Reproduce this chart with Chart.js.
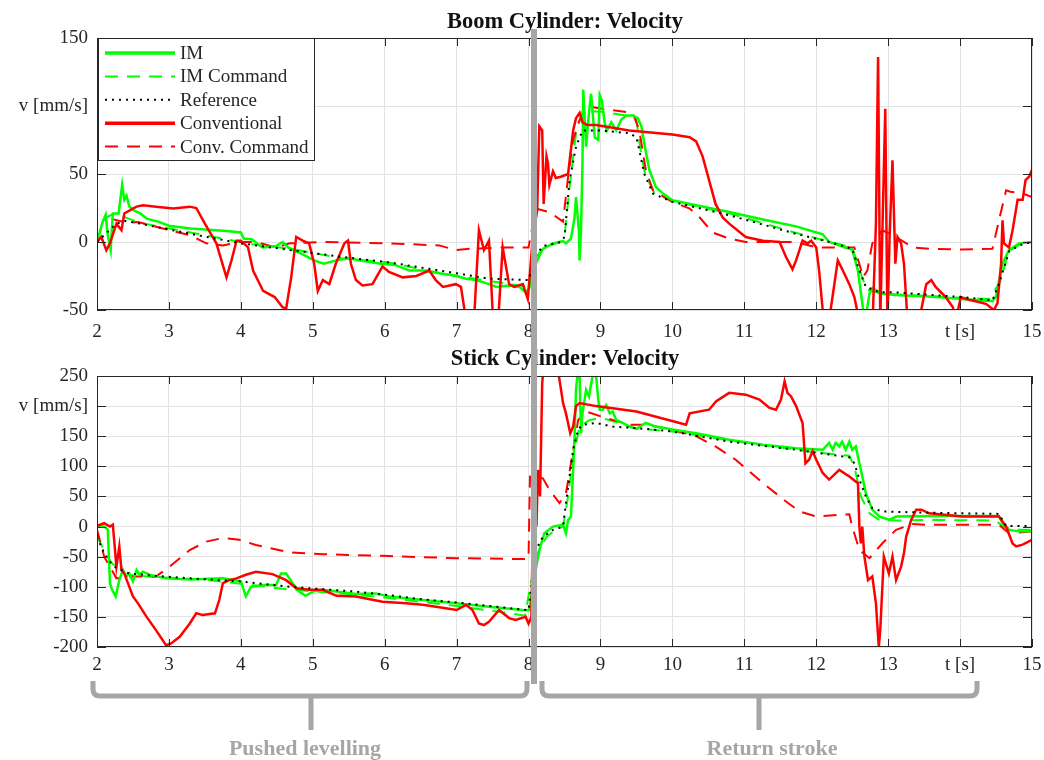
<!DOCTYPE html>
<html>
<head>
<meta charset="utf-8">
<script src="https://cdn.jsdelivr.net/npm/chart.js@4.4.0/dist/chart.umd.min.js"></script>
<style>
  body { margin: 0; background: #fff; width: 1044px; height: 760px; position: relative; overflow: hidden; }
  canvas { position: absolute; left: 0; }
  #boomChart { top: 0; }
  #stickChart { top: 340px; }
  svg { position: absolute; left: 0; top: 0; font-family: 'Liberation Serif', serif; }
</style>
</head>
<body>
<canvas id="boomChart" width="1044" height="345"></canvas>
<canvas id="stickChart" width="1044" height="345"></canvas>
<svg width="1044" height="760">
  <text x="565" y="28" font-size="22.5" font-weight="bold" text-anchor="middle" fill="#111">Boom Cylinder: Velocity</text>
  <text x="565" y="365" font-size="22.5" font-weight="bold" text-anchor="middle" fill="#111">Stick Cylinder: Velocity</text>
  <rect x="531" y="29" width="6" height="655" fill="#a6a6a6"/>
  <path d="M93 681 V689 Q93 696 100 696 H520 Q527 696 527 689 V681 M311 696 V730" stroke="#a6a6a6" stroke-width="5" fill="none"/>
  <path d="M542 681 V689 Q542 696 549 696 H970 Q977 696 977 689 V681 M759 696 V730" stroke="#a6a6a6" stroke-width="5" fill="none"/>
  <text x="305" y="755" font-size="22" font-weight="bold" text-anchor="middle" fill="#a6a6a6">Pushed levelling</text>
  <text x="772" y="755" font-size="22" font-weight="bold" text-anchor="middle" fill="#a6a6a6">Return stroke</text>
</svg>
<script>
// --- Data: [t (s), v (mm/s)] ---
const seriesNames = ['IM', 'IM Command', 'Reference', 'Conventional', 'Conv. Command'];

// Boom cylinder
const boomIm = [[2,0],[2.08,15],[2.12,20],[2.15,5],[2.19,-6],[2.22,21],[2.3,21],[2.35,42],[2.38,31],[2.41,34],[2.45,26],[2.52,23],[2.6,21],[2.7,17],[2.85,15],[3,12],[3.3,10],[3.8,8],[4,7],[4.04,2.5],[4.15,2],[4.3,-4],[4.49,-3],[4.58,0],[4.66,-4],[4.84,-8.6],[5.02,-13.5],[5.15,-16],[5.33,-13.5],[5.5,-12],[5.7,-14],[5.95,-16],[6.15,-17],[6.34,-21],[6.53,-21],[6.76,-23],[7,-25],[7.13,-27],[7.27,-28],[7.45,-31],[7.55,-33],[7.73,-32],[7.87,-33],[7.96,-37],[8.01,-34],
  [8.1,-16],[8.2,-5],[8.34,-1],[8.48,0.7],[8.52,-1],[8.59,2.5],[8.64,18],[8.66,33],[8.7,8.6],[8.71,-13.5],[8.73,9],[8.75,58],[8.76,112],[8.8,70],[8.84,95],[8.87,109],[8.92,77],[8.97,75],[8.99,108],[9.02,104],[9.06,87],[9.09,82],[9.15,88],[9.22,82],[9.29,90],[9.36,93],[9.45,93],[9.52,91],[9.57,85],[9.61,72],[9.68,53],[9.77,40.5],[9.87,35.6],[10,30.7],[10.33,27],[10.79,22],[11.26,16.5],[11.72,11.5],[12.09,5.7],[12.18,0],[12.5,-5.7],[12.58,-21],[12.65,-49],[12.69,-55],[12.74,-38],[12.78,-34],[12.92,-38],[13.1,-39],[13.57,-40],[14.03,-42],[14.45,-43.5],[14.5,-40],[14.59,-16],[14.68,-6],[14.82,-1],[15,0]];
const boomImCmd = [[2,0],[2.1,17],[2.2,20],[2.3,20],[2.6,14],[3.3,7],[4,0],[4.2,-2],[4.7,-5],[5.4,-12],[6.06,-15],[6.5,-20],[7,-25],[7.5,-29],[8,-33],[8.1,-12],[8.2,-4],[8.45,0],[8.5,4],[8.57,40],[8.66,80],[8.75,96],[9,96],[9.36,93],[9.5,90],[9.55,70],[9.62,50],[9.75,36],[10,30],[10.8,21],[11.7,7],[12.2,0],[12.5,-4],[12.6,-20],[12.7,-35],[12.9,-38],[14.4,-42],[14.55,-30],[14.68,-7],[14.85,-1],[15,0]];
const boomRef = [[2,0],[2.1,5],[2.27,13.5],[2.4,15.5],[2.6,13.5],[3.3,6],[4,-1],[4.7,-6],[5.41,-11],[6.06,-15],[7,-23],[7.45,-27],[8,-28],[8.1,-10],[8.2,-3],[8.45,0],[8.5,3.7],[8.52,15],[8.57,45],[8.66,70],[8.75,82],[9,82],[9.4,80],[9.5,77],[9.54,67.5],[9.61,50],[9.73,35.6],[10,29.5],[10.79,19.7],[11.72,6],[12.18,0],[12.5,-5],[12.6,-21],[12.69,-33],[12.88,-37],[13.1,-37],[14.03,-40.5],[14.45,-43],[14.54,-31],[14.68,-7],[14.82,-2.5],[15,0]];
const boomConv = [[2,0],[2.06,3.7],[2.13,-6],[2.18,-1],[2.27,13.5],[2.34,8.6],[2.38,21],[2.45,23],[2.55,26],[2.64,27],[2.82,26],[3.06,24.6],[3.29,26],[3.38,25],[3.5,13.5],[3.66,-1],[3.73,-13.5],[3.8,-26],[3.87,-13.5],[3.94,1],[4,1],[4.1,-4],[4.17,-21],[4.31,-36],[4.47,-40.5],[4.58,-48],[4.63,-49],[4.7,-26],[4.77,3.7],[4.86,1],[4.95,-1],[5.02,-16],[5.07,-36],[5.14,-28],[5.23,-31],[5.32,-16],[5.44,-1],[5.49,1],[5.53,-16],[5.6,-28],[5.69,-32],[5.83,-31],[5.97,-18],[6.06,-22],[6.25,-26],[6.44,-25],[6.62,-21],[6.71,-28],[6.81,-33],[6.99,-31],[7.06,-33],[7.11,-50],[7.18,-65],[7.25,-50],[7.31,8.6],[7.38,-6],[7.45,1],[7.5,-50],[7.57,-65],[7.64,-4],[7.73,-31],[7.8,-33],[7.92,-31],[7.99,-42],
  [8.06,3.7],[8.12,23],[8.15,85],[8.19,82],[8.21,28],[8.25,63],[8.27,58],[8.29,42],[8.34,52],[8.38,47],[8.45,48],[8.55,50],[8.62,82],[8.66,91],[8.71,95],[8.75,88],[8.82,86],[8.94,86],[9.4,82],[10,79],[10.24,77],[10.33,74],[10.42,63],[10.51,45.5],[10.6,28],[10.7,18],[10.79,13.5],[11.02,3.7],[11.26,1],[11.49,0],[11.58,-11],[11.67,-20],[11.72,-13.5],[11.81,1],[11.88,-1],[11.93,1],[12,-4],[12.04,-21],[12.09,-50],[12.16,-75],[12.2,-50],[12.3,-13.5],[12.37,-21],[12.46,-31],[12.53,-40.5],[12.6,-58],[12.69,-75],[12.78,-65],[12.83,13.5],[12.86,136],[12.89,-58],[12.92,8.6],[12.96,98],[12.99,-60],[13.02,3.7],[13.06,60],[13.1,-16],[13.13,3.7],[13.18,-1],[13.22,-16],[13.26,-50],[13.34,-75],[13.46,-50],[13.53,-31],[13.6,-28],[13.66,-33],[13.8,-40.5],[13.9,-48],[13.94,-58],[14.01,-40.5],[14.08,-42],[14.17,-43],[14.36,-45.5],[14.47,-50],[14.52,-45],[14.57,-16],[14.59,16],[14.61,-1],[14.68,-4],[14.73,8.6],[14.8,31],[14.87,31],[14.91,45.5],[14.96,48],[15,53]];
const boomConvCmd = [[2.2,17],[2.43,14],[2.57,14.7],[3.01,8.6],[3.29,5],[3.52,-1],[3.75,-2.5],[3.98,0],[4.21,0],[4.49,-4],[4.68,-1],[5.14,0],[6.06,-1],[6.76,-2.5],[6.99,-6],[7.18,-5],[7.64,-4],[8,-4],[8.1,24.6],[8.29,22],[8.48,15],[8.55,48],[8.62,75],[8.71,90],[8.85,99.5],[9.03,98],[9.45,95],[9.54,82],[9.63,53],[9.73,38],[10,29.5],[10.24,24.6],[10.38,18],[10.56,7],[10.79,2.5],[11.02,0],[11.72,0],[12,-4],[12.53,-4],[12.6,-16],[12.65,-26],[12.71,-21],[12.78,-1],[12.92,8.6],[13.1,4],[13.34,-4],[13.57,-5],[14.03,-5.6],[14.45,-5],[14.55,18],[14.64,38],[14.7,37],[14.87,35.6],[15,33]];

// Stick cylinder
const stickIm = [[2,0],[2.1,0],[2.15,-5],[2.18,-94],[2.21,-105],[2.26,-116],[2.31,-89],[2.36,-72],[2.41,-83],[2.45,-78],[2.5,-91],[2.55,-72],[2.59,-80],[2.64,-75],[2.73,-80],[2.96,-86],[3.29,-88],[3.75,-86],[4,-91],[4.07,-116],[4.14,-100],[4.31,-97],[4.49,-97],[4.56,-78],[4.63,-78],[4.72,-94],[4.81,-108],[4.9,-115],[5,-108],[5.14,-105],[5.6,-112],[5.88,-111],[6.06,-116],[6.53,-122],[7,-127.5],[7.45,-133],[7.92,-138.6],[8.01,-139],
  [8.1,-72],[8.15,-39],[8.22,-11],[8.34,0],[8.48,3],[8.52,-11],[8.55,11],[8.59,16.6],[8.62,94],[8.64,150],[8.66,227],[8.69,265],[8.71,250],[8.73,155],[8.75,188],[8.8,227],[8.84,216],[8.89,250],[8.94,250],[8.97,210],[8.99,194],[9.03,194],[9.08,202],[9.13,188],[9.17,191],[9.22,177],[9.31,172],[9.4,166],[9.5,162],[9.63,172],[9.77,166],[10,161],[10.33,155],[10.79,144],[11.26,136],[11.72,130],[12.09,127.5],[12.18,139],[12.23,127.5],[12.27,139],[12.32,133],[12.36,141],[12.41,127.5],[12.46,141],[12.5,127.5],[12.55,133],[12.6,105],[12.65,78],[12.69,55],[12.78,28],[12.88,16.6],[13.02,11],[13.11,16.6],[13.57,17.7],[14.03,17.7],[14.54,17.7],[14.59,5.5],[14.68,-5.5],[14.82,-8],[15,-8]];
const stickImCmd = [[2,-15],[2.1,-40],[2.2,-60],[2.4,-80],[2.7,-83],[3.5,-88],[4,-95],[4.7,-105],[5.5,-112],[6,-118],[6.5,-125],[7,-132],[7.5,-140],[7.95,-148],[8.1,-50],[8.25,-17],[8.38,-5],[8.48,0],[8.55,50],[8.62,116],[8.71,166],[8.85,177],[9.03,180],[9.5,163],[10,158],[10.79,143],[11.99,123],[12.46,117.5],[12.53,100],[12.62,50],[12.74,22],[12.88,11],[13.11,10],[13.57,11],[14.5,10],[14.59,0],[14.78,-5.5],[15,-5.5]];
const stickRef = [[2,-17],[2.08,-39],[2.15,-55],[2.27,-69],[2.45,-78],[2.82,-82],[3.29,-86],[3.98,-91],[4.68,-100],[5.14,-104],[5.6,-108],[6.06,-114],[6.53,-121],[7,-126],[7.45,-132],[8,-139],[8.1,-39],[8.2,-17],[8.34,-5.5],[8.48,0],[8.52,39],[8.57,83],[8.62,127.5],[8.69,161],[8.75,169],[8.94,172],[9.17,166],[9.5,163.5],[10,158],[10.79,141],[11.72,127.5],[12.46,115],[12.53,105],[12.6,78],[12.69,50],[12.78,30.5],[12.92,25],[13.57,23],[14.54,21],[14.64,1],[15,1]];
const stickConv = [[2,1],[2.1,5.5],[2.18,0],[2.22,3],[2.27,-66.5],[2.31,-33],[2.34,-72],[2.38,-78],[2.43,-94],[2.5,-116],[2.57,-127.5],[2.69,-150],[2.82,-172],[2.96,-197],[3.03,-194],[3.15,-183],[3.29,-161],[3.38,-144],[3.47,-147],[3.64,-144],[3.7,-122],[3.75,-94],[3.84,-89],[3.94,-86],[4.07,-80],[4.21,-75],[4.44,-79],[4.63,-89],[4.77,-102.5],[4.95,-105],[5.14,-105],[5.33,-115],[5.6,-116],[5.97,-125],[6.3,-127.5],[6.53,-130],[6.76,-134],[7,-138.6],[7.13,-130],[7.22,-138.6],[7.31,-161],[7.38,-163.5],[7.45,-158],[7.59,-138.6],[7.73,-152],[7.82,-155],[7.96,-150],[8,-161],
  [8.04,-150],[8.06,0],[8.08,94],[8.11,0],[8.13,94],[8.16,50],[8.19,238],[8.22,280],[8.38,280],[8.43,244],[8.48,205],[8.52,188],[8.58,155],[8.62,166],[8.66,200],[8.71,205],[8.94,200],[9.5,191],[10.19,169],[10.24,188],[10.51,194],[10.61,208],[10.79,222],[11.02,219],[11.21,211],[11.35,197],[11.44,194],[11.51,211],[11.56,241],[11.6,222],[11.65,216],[11.72,200],[11.81,172],[11.85,105],[11.9,111],[11.95,125],[12,111],[12.09,89],[12.18,78],[12.32,94],[12.46,83],[12.58,72],[12.6,0],[12.62,-28],[12.64,0],[12.67,-50],[12.72,-89],[12.78,-83],[12.83,-127.5],[12.87,-200],[12.89,-172],[12.94,-50],[13.01,-78],[13.06,-50],[13.11,-89],[13.18,-66.5],[13.22,-44],[13.25,-17],[13.32,11],[13.39,28],[13.46,28],[13.57,22],[14.03,16.6],[14.54,16.6],[14.64,0],[14.73,-28],[14.78,-33],[14.87,-30],[15,-22]];
const stickConvCmd = [[2,-5],[2.1,-50],[2.27,-86],[2.5,-83],[2.82,-83],[3.01,-66.5],[3.29,-39],[3.52,-25],[3.75,-19],[3.98,-22],[4.21,-30.5],[4.68,-43],[5.14,-46],[6.06,-49],[7,-52.6],[8,-54],[8.02,83],[8.2,80],[8.29,61],[8.43,39],[8.52,55],[8.59,105],[8.69,177],[8.8,191],[9.08,180],[9.4,169],[9.63,169],[10,161],[10.33,150],[10.6,133],[10.88,111],[11.26,72],[11.58,41.6],[11.77,25],[12,16.6],[12.46,20.5],[12.5,0],[12.6,-39],[12.74,-52.6],[12.92,-27.7],[13.11,-5.5],[13.34,4.4],[13.57,2.8],[14.54,2.8],[14.68,-11],[15,-8.3]];

// Axes
const tRange = [2, 15];
const boomRange = [-50, 150];
const stickRange = [-200, 250];
const xLabelSwap = { 14: 't [s]' };
const boomYLabelSwap = { 100: 'v [mm/s]' };
const stickYLabelSwap = { 200: 'v [mm/s]' };

// --- Styling ---
Chart.defaults.font.family = "'Liberation Serif', serif";
Chart.defaults.font.size = 19;
Chart.defaults.color = '#262626';

const GREEN = '#00ff00', RED = '#ff0000';
const styles = [
  { color: GREEN, width: 2.5, dash: [], order: 2 },
  { color: GREEN, width: 2, dash: [13, 9], order: 4 },
  { color: '#000', width: 2, dash: [2, 5], order: 0 },
  { color: RED, width: 2.5, dash: [], order: 1 },
  { color: RED, width: 2, dash: [13, 9], order: 3 }
];

function toPoints(pairs) { return pairs.map(p => ({ x: p[0], y: p[1] })); }

function makeDatasets(list) {
  return list.map((pairs, i) => ({
    label: seriesNames[i],
    data: toPoints(pairs),
    borderColor: styles[i].color,
    borderWidth: styles[i].width,
    borderDash: styles[i].dash,
    order: styles[i].order,
    pointRadius: 0,
    tension: 0,
    fill: false
  }));
}

// box, inward tick marks and (optionally) the legend
const boxPlugin = {
  id: 'matlabBox',
  afterDraw(chart, args, opts) {
    const { ctx, chartArea: a, scales } = chart;
    ctx.save();
    ctx.strokeStyle = '#262626';
    ctx.lineWidth = 1;
    ctx.setLineDash([]);
    ctx.strokeRect(a.left + 0.5, a.top + 0.5, a.right - a.left - 1, a.bottom - a.top - 1);
    ctx.beginPath();
    scales.x.ticks.forEach(t => {
      const px = Math.round(scales.x.getPixelForValue(t.value)) + 0.5;
      ctx.moveTo(px, a.top); ctx.lineTo(px, a.top + 8);
      ctx.moveTo(px, a.bottom); ctx.lineTo(px, a.bottom - 8);
    });
    scales.y.ticks.forEach(t => {
      const py = Math.round(scales.y.getPixelForValue(t.value)) + 0.5;
      ctx.moveTo(a.left, py); ctx.lineTo(a.left + 9, py);
      ctx.moveTo(a.right, py); ctx.lineTo(a.right - 9, py);
    });
    ctx.stroke();

    if (opts.legend) {
      const x0 = a.left + 1, y0 = a.top, w = 216, h = 122;
      ctx.fillStyle = '#fff';
      ctx.fillRect(x0, y0, w, h);
      ctx.strokeRect(x0 + 0.5, y0 + 0.5, w, h);
      ctx.font = "19px 'Liberation Serif', serif";
      ctx.textBaseline = 'middle';
      chart.data.datasets.forEach((ds, i) => {
        const y = y0 + 15 + i * 23.4;
        ctx.beginPath();
        ctx.strokeStyle = ds.borderColor;
        ctx.lineWidth = i === 0 || i === 3 ? 3.5 : ds.borderWidth;
        ctx.setLineDash(ds.borderDash);
        ctx.moveTo(x0 + 7, y); ctx.lineTo(x0 + 77, y);
        ctx.stroke();
        ctx.setLineDash([]);
        ctx.fillStyle = '#262626';
        ctx.fillText(ds.label, x0 + 82, y + 1);
      });
    }
    ctx.restore();
  }
};

function makeChart(id, list, yRange, ySwap, padTop, xHeight, xPad, legend) {
  return new Chart(document.getElementById(id), {
    type: 'line',
    data: { datasets: makeDatasets(list) },
    options: {
      responsive: false,
      animation: false,
      layout: { padding: { top: padTop, right: 12, left: 0, bottom: 0 } },
      plugins: { legend: { display: false }, tooltip: { enabled: false }, matlabBox: { legend: legend } },
      scales: {
        x: {
          type: 'linear', min: tRange[0], max: tRange[1],
          afterFit(s) { s.height = xHeight; s.paddingLeft = 0; s.paddingRight = 0; },
          grid: { color: '#e2e2e2', drawTicks: false },
          border: { display: false },
          ticks: { stepSize: 1, padding: xPad, maxRotation: 0, autoSkip: false,
            callback: v => xLabelSwap[v] !== undefined ? xLabelSwap[v] : v }
        },
        y: {
          min: yRange[0], max: yRange[1],
          afterFit(s) { s.width = 97; s.paddingTop = 0; s.paddingBottom = 0; },
          grid: { color: '#e2e2e2', drawTicks: false },
          border: { display: false },
          ticks: { stepSize: 50, padding: 9,
            callback: v => ySwap[v] !== undefined ? ySwap[v] : v }
        }
      }
    },
    plugins: [boxPlugin]
  });
}

makeChart('boomChart', [boomIm, boomImCmd, boomRef, boomConv, boomConvCmd], boomRange, boomYLabelSwap, 38, 35, 11, true);
makeChart('stickChart', [stickIm, stickImCmd, stickRef, stickConv, stickConvCmd], stickRange, stickYLabelSwap, 36, 38, 7, false);
</script>
</body>
</html>
